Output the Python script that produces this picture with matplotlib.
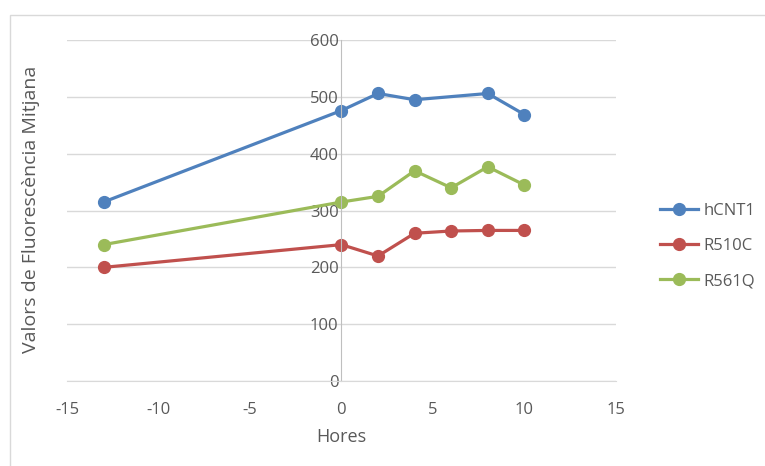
import matplotlib.pyplot as plt
from matplotlib.patches import Rectangle

plt.rcParams['font.family'] = ['Open Sans', 'DejaVu Sans']
plt.rcParams['axes.unicode_minus'] = False

hores_hcnt1 = [-13, 0, 2, 4, 8, 10]
hcnt1 = [315, 476, 506, 495, 506, 469]

hores = [-13, 0, 2, 4, 6, 8, 10]
r510c = [200, 240, 220, 260, 264, 265, 265]
r561q = [240, 315, 325, 370, 340, 377, 345]

fig = plt.figure(figsize=(7.65, 4.66), dpi=100)
ax = fig.add_axes([0.0876, 0.1824, 0.7174, 0.7316])

# marc del grafic
fig.patches.append(Rectangle((10 / 765, -0.1), 1.0, 1.1 - 15 / 466, transform=fig.transFigure,
                             fill=False, edgecolor='#d9d9d9', linewidth=1))

ax.plot(hores_hcnt1, hcnt1, label="hCNT1", color="#4f81bd", linestyle="-", marker="o",
        linewidth=2.3, markersize=8.5)
ax.plot(hores, r510c, label="R510C", color="#c0504d", linestyle="-", marker="o",
        linewidth=2.3, markersize=8.5)
ax.plot(hores, r561q, label="R561Q", color="#9bbb59", linestyle="-", marker="o",
        linewidth=2.3, markersize=8.5)

ax.set_xlim(-15, 15)
ax.set_ylim(0, 600)
ax.set_xticks(range(-15, 16, 5))
ax.set_yticks(range(0, 601, 100))
ax.grid(True, axis='y', color='#d9d9d9', linewidth=1)
ax.set_axisbelow(True)

# eix vertical a x=0
ax.spines['left'].set_position(('data', 0))
ax.spines['left'].set_color('#bfbfbf')
ax.spines['bottom'].set_color('#d9d9d9')
ax.spines['top'].set_visible(False)
ax.spines['right'].set_visible(False)
ax.tick_params(length=0, labelsize=12, labelcolor='#595959')
ax.tick_params(axis='x', pad=15)
ax.tick_params(axis='y', pad=2)

fig.text(341 / 765, 1 - 437 / 466, "Hores", ha='center', va='center', fontsize=13, color='#595959')
fig.text(31 / 765, 1 - 209 / 466, "Valors de Fluorescència Mitjana", ha='center', va='center',
         rotation=90, fontsize=14, color='#595959')

fig.legend(loc='center left', bbox_to_anchor=(645 / 765, 1 - 246 / 466), frameon=False,
           fontsize=12, labelcolor='#595959', handlelength=2.3, labelspacing=1.15, handletextpad=0.3)

plt.savefig("out.png", dpi=100)
